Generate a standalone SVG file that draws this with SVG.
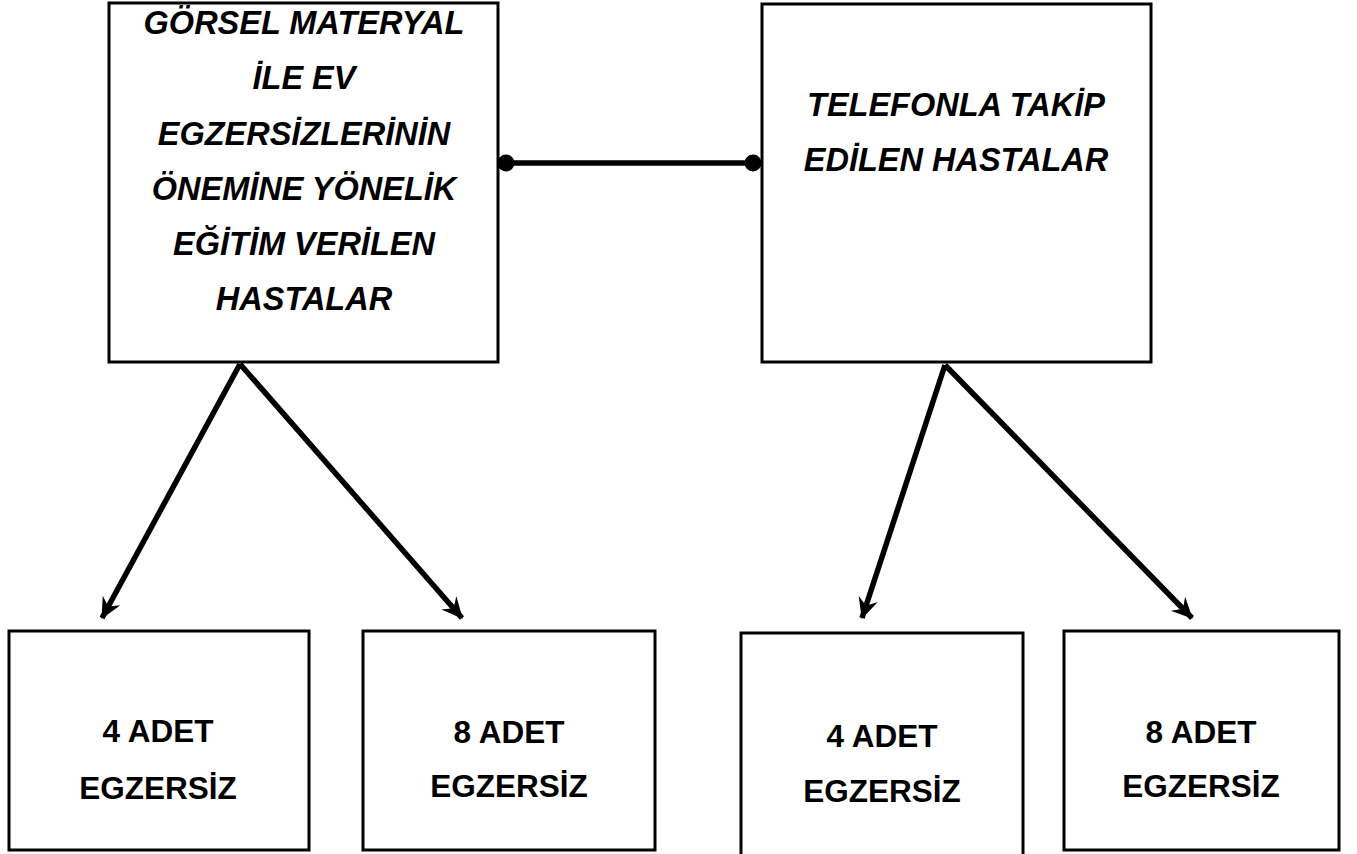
<svg xmlns="http://www.w3.org/2000/svg" width="1357" height="854" viewBox="0 0 1357 854">
<style>
.box{fill:#fff;stroke:#000;stroke-width:3}
.t{font-family:"Liberation Sans",Arial,sans-serif;font-weight:bold;font-size:31.5px;fill:#000;text-anchor:middle}
.ti{font-style:italic;font-size:32.5px}
.c{stroke:#000;stroke-width:5.5;fill:none}
</style>
<defs>
<marker id="ah" markerUnits="userSpaceOnUse" viewBox="-24 -12 26 24" markerWidth="26" markerHeight="24" refX="0" refY="0" orient="auto">
<path d="M1,0 L-20,-10 L-13,0 L-20,10 Z" fill="#000"/>
</marker>
<marker id="dot" markerUnits="userSpaceOnUse" viewBox="-10 -10 20 20" markerWidth="20" markerHeight="20" refX="0" refY="0">
<circle r="8.5" fill="#000"/>
</marker>
</defs>
<rect width="1357" height="854" fill="#fff"/>
<g id="n1">
<rect class="box" x="109" y="3" width="389" height="359"/>
<text class="t ti" x="304" y="34">GÖRSEL MATERYAL</text>
<text class="t ti" x="304" y="89">İLE EV</text>
<text class="t ti" x="304" y="145">EGZERSİZLERİNİN</text>
<text class="t ti" x="304" y="200">ÖNEMİNE YÖNELİK</text>
<text class="t ti" x="304" y="255">EĞİTİM VERİLEN</text>
<text class="t ti" x="304" y="310">HASTALAR</text>
</g>
<g id="n2">
<rect class="box" x="762" y="4" width="389" height="358"/>
<text class="t ti" x="956" y="116">TELEFONLA TAKİP</text>
<text class="t ti" x="956" y="171">EDİLEN HASTALAR</text>
</g>
<g id="n3">
<rect class="box" x="9" y="631" width="300" height="219"/>
<text class="t" x="158" y="742">4 ADET</text>
<text class="t" x="158" y="799">EGZERSİZ</text>
</g>
<g id="n4">
<rect class="box" x="363" y="631" width="292" height="219"/>
<text class="t" x="509" y="743">8 ADET</text>
<text class="t" x="509" y="797">EGZERSİZ</text>
</g>
<g id="n5">
<rect class="box" x="741" y="633" width="282" height="230"/>
<text class="t" x="882" y="747">4 ADET</text>
<text class="t" x="882" y="802">EGZERSİZ</text>
</g>
<g id="n6">
<rect class="box" x="1064" y="631" width="275" height="219"/>
<text class="t" x="1201" y="743">8 ADET</text>
<text class="t" x="1201" y="797">EGZERSİZ</text>
</g>
<g id="connectors">
<line class="c" x1="506" y1="163" x2="753" y2="163" marker-start="url(#dot)" marker-end="url(#dot)"/>
<line class="c" x1="240" y1="364" x2="102" y2="618" marker-end="url(#ah)"/>
<line class="c" x1="240" y1="364" x2="462" y2="618" marker-end="url(#ah)"/>
<line class="c" x1="945" y1="365" x2="862" y2="618" marker-end="url(#ah)"/>
<line class="c" x1="945" y1="365" x2="1192" y2="618" marker-end="url(#ah)"/>
</g>
</svg>
